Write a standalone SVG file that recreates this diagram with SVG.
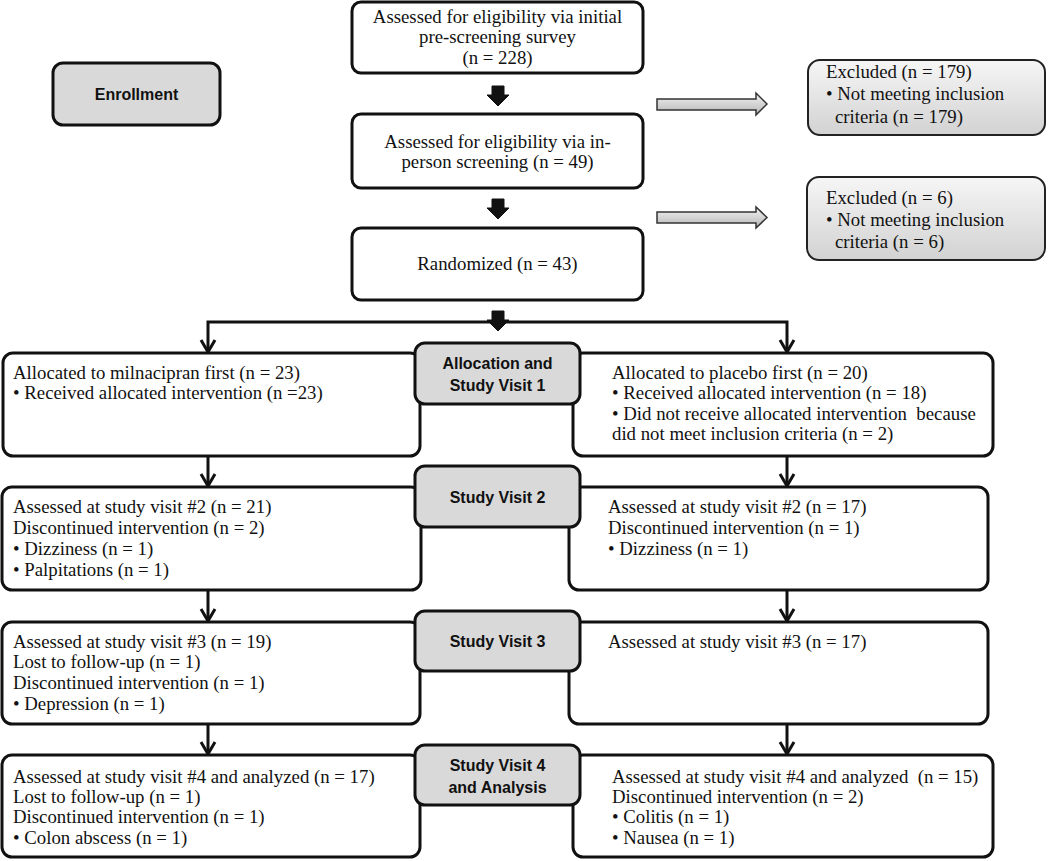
<svg xmlns="http://www.w3.org/2000/svg" width="1050" height="861" viewBox="0 0 1050 861">
<defs>
<style>
.t{font-family:"Liberation Serif","Times New Roman",serif;font-size:18.8px;fill:#111;white-space:pre}
.tc{font-family:"Liberation Serif","Times New Roman",serif;font-size:18.8px;fill:#111;text-anchor:middle}
.lb{font-family:"Liberation Sans",Arial,sans-serif;font-size:16px;font-weight:bold;fill:#111;text-anchor:middle}
.box{fill:#fff;stroke:#111;stroke-width:3}
.gbox{fill:#d9d9d9;stroke:#111;stroke-width:3}
.ebox{fill:url(#eg);stroke:#222;stroke-width:2}
.ln{fill:none;stroke:#111;stroke-width:3}
.hd{fill:none;stroke:#111;stroke-width:3;stroke-linejoin:miter}
.blk{fill:#111;stroke:#111;stroke-width:1}
.garr{fill:url(#ag);stroke:#333;stroke-width:1.5;stroke-linejoin:miter}
</style>
<linearGradient id="eg" x1="0" y1="0" x2="0" y2="1">
<stop offset="0" stop-color="#f6f6f6"/>
<stop offset="1" stop-color="#d2d2d2"/>
</linearGradient>
<linearGradient id="ag" x1="0" y1="0" x2="0" y2="1">
<stop offset="0" stop-color="#f4f4f4"/>
<stop offset="1" stop-color="#b5b5b5"/>
</linearGradient>
</defs>
<rect width="1050" height="861" fill="#fff"/>

<g id="connectors">
<polygon class="blk" points="492,86 504,86 504,95 509,95 498,106 487,95 492,95"/>
<polygon class="blk" points="492,199 504,199 504,208 509,208 498,219 487,208 492,208"/>
<polyline class="ln" points="208,352 208,322 787,322 787,352"/>
<polygon class="blk" points="492,311 504,311 504,320 509,320 498,331 487,320 492,320"/>
<path class="hd" d="M201,340 L208,352 L215,340"/>
<path class="hd" d="M780,340 L787,352 L794,340"/>
<line class="ln" x1="208" y1="456" x2="208" y2="486"/>
<path class="hd" d="M201,474 L208,486 L215,474"/>
<line class="ln" x1="787" y1="456" x2="787" y2="486"/>
<path class="hd" d="M780,474 L787,486 L794,474"/>
<line class="ln" x1="208" y1="590" x2="208" y2="621"/>
<path class="hd" d="M201,609 L208,621 L215,609"/>
<line class="ln" x1="787" y1="590" x2="787" y2="621"/>
<path class="hd" d="M780,609 L787,621 L794,609"/>
<line class="ln" x1="208" y1="724" x2="208" y2="754"/>
<path class="hd" d="M201,742 L208,754 L215,742"/>
<line class="ln" x1="787" y1="724" x2="787" y2="754"/>
<path class="hd" d="M780,742 L787,754 L794,742"/>
<polygon class="garr" points="657,99 756,99 756,93 767,104 756,115 756,110 657,110"/>
<polygon class="garr" points="657,212 756,212 756,207 767,217.5 756,228 756,223 657,223"/>
</g>

<g id="enrollment">
<rect class="gbox" x="53" y="63" width="167" height="62" rx="10"/>
<text class="lb" x="136.5" y="100">Enrollment</text>
</g>

<g id="prescreen">
<rect class="box" x="352" y="2" width="291" height="71" rx="9"/>
<text class="tc" x="497.5" y="23">Assessed for eligibility via initial</text>
<text class="tc" x="497.5" y="43">pre-screening survey</text>
<text class="tc" x="497.5" y="64">(n = 228)</text>
</g>

<g id="inperson">
<rect class="box" x="352" y="114" width="291" height="74" rx="9"/>
<text class="tc" x="497.5" y="148">Assessed for eligibility via in-</text>
<text class="tc" x="497.5" y="168">person screening (n = 49)</text>
</g>

<g id="randomized">
<rect class="box" x="352" y="228" width="291" height="72" rx="9"/>
<text class="tc" x="497.5" y="270">Randomized (n = 43)</text>
</g>

<g id="excluded1">
<rect class="ebox" x="808" y="60" width="237" height="75" rx="12"/>
<text class="t" x="826" y="78">Excluded (n = 179)</text>
<text class="t" x="826" y="100">• Not meeting inclusion</text>
<text class="t" x="835" y="123">criteria (n = 179)</text>
</g>

<g id="excluded2">
<rect class="ebox" x="807" y="177" width="238" height="83" rx="12"/>
<text class="t" x="826" y="204">Excluded (n = 6)</text>
<text class="t" x="826" y="226">• Not meeting inclusion</text>
<text class="t" x="835" y="248">criteria (n = 6)</text>
</g>

<g id="left1">
<rect class="box" x="3" y="353" width="417" height="103" rx="10"/>
<text class="t" x="13" y="379">Allocated to milnacipran first (n = 23)</text>
<text class="t" x="13" y="399">• Received allocated intervention (n =23)</text>
</g>

<g id="right1">
<rect class="box" x="573" y="353" width="420" height="103" rx="10"/>
<text class="t" x="612" y="379">Allocated to placebo first (n = 20)</text>
<text class="t" x="612" y="399">• Received allocated intervention (n = 18)</text>
<text class="t" x="612" y="420" xml:space="preserve">• Did not receive allocated intervention  because</text>
<text class="t" x="612" y="440">did not meet inclusion criteria (n = 2)</text>
</g>

<g id="left2">
<rect class="box" x="2" y="487" width="419" height="103" rx="10"/>
<text class="t" x="13" y="513">Assessed at study visit #2 (n = 21)</text>
<text class="t" x="13" y="534">Discontinued intervention (n = 2)</text>
<text class="t" x="13" y="555">• Dizziness (n = 1)</text>
<text class="t" x="13" y="576">• Palpitations (n = 1)</text>
</g>

<g id="right2">
<rect class="box" x="569" y="487" width="419" height="103" rx="10"/>
<text class="t" x="608" y="513">Assessed at study visit #2 (n = 17)</text>
<text class="t" x="608" y="534">Discontinued intervention (n = 1)</text>
<text class="t" x="608" y="555">• Dizziness (n = 1)</text>
</g>

<g id="left3">
<rect class="box" x="2" y="622" width="418" height="102" rx="10"/>
<text class="t" x="13" y="648">Assessed at study visit #3 (n = 19)</text>
<text class="t" x="13" y="668">Lost to follow-up (n = 1)</text>
<text class="t" x="13" y="689">Discontinued intervention (n = 1)</text>
<text class="t" x="13" y="710">• Depression (n = 1)</text>
</g>

<g id="right3">
<rect class="box" x="569" y="622" width="419" height="102" rx="10"/>
<text class="t" x="608" y="648">Assessed at study visit #3 (n = 17)</text>
</g>

<g id="left4">
<rect class="box" x="2" y="755" width="418" height="102" rx="10"/>
<text class="t" x="13" y="783">Assessed at study visit #4 and analyzed (n = 17)</text>
<text class="t" x="13" y="803">Lost to follow-up (n = 1)</text>
<text class="t" x="13" y="823">Discontinued intervention (n = 1)</text>
<text class="t" x="13" y="844">• Colon abscess (n = 1)</text>
</g>

<g id="right4">
<rect class="box" x="573" y="755" width="420" height="102" rx="10"/>
<text class="t" x="612" y="783" xml:space="preserve">Assessed at study visit #4 and analyzed  (n = 15)</text>
<text class="t" x="612" y="803">Discontinued intervention (n = 2)</text>
<text class="t" x="612" y="823">• Colitis (n = 1)</text>
<text class="t" x="612" y="844">• Nausea (n = 1)</text>
</g>

<g id="label1">
<rect class="gbox" x="415" y="343" width="165" height="61" rx="10"/>
<text class="lb" x="497.5" y="369">Allocation and</text>
<text class="lb" x="497.5" y="391">Study Visit 1</text>
</g>

<g id="label2">
<rect class="gbox" x="415" y="466" width="165" height="61" rx="10"/>
<text class="lb" x="497.5" y="503">Study Visit 2</text>
</g>

<g id="label3">
<rect class="gbox" x="415" y="611" width="165" height="60" rx="10"/>
<text class="lb" x="497.5" y="647">Study Visit 3</text>
</g>

<g id="label4">
<rect class="gbox" x="415" y="745" width="165" height="60" rx="10"/>
<text class="lb" x="497.5" y="771">Study Visit 4</text>
<text class="lb" x="497.5" y="793">and Analysis</text>
</g>
</svg>
